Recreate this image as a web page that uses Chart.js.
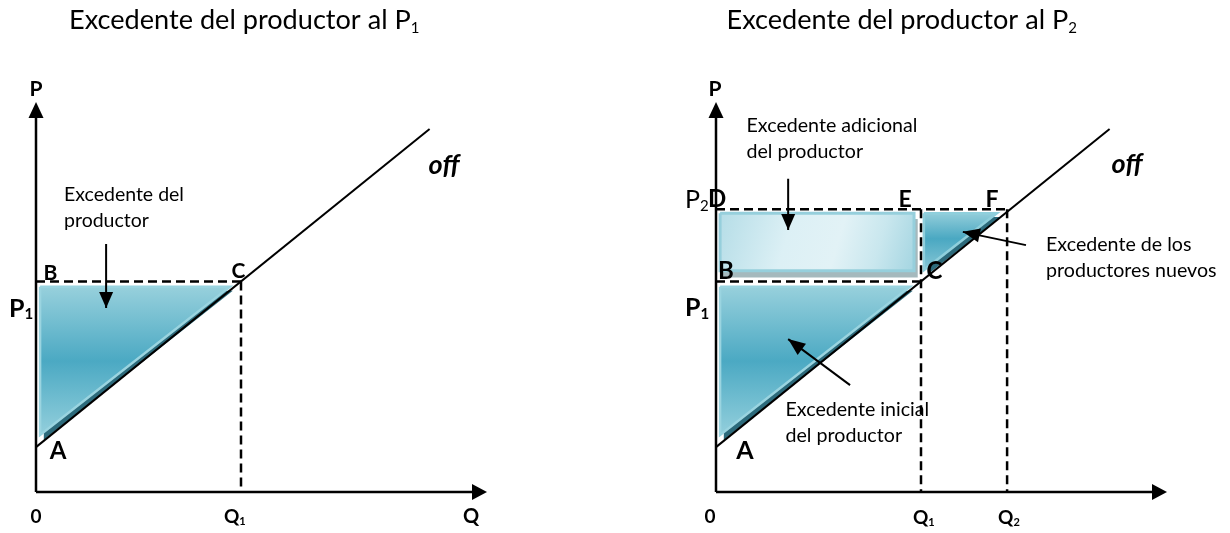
<!DOCTYPE html>
<html><head><meta charset="utf-8">
<script src="https://cdn.jsdelivr.net/npm/chart.js@4.4.1/dist/chart.umd.min.js"></script>
<style>
html,body{margin:0;padding:0;background:#fff;width:1230px;height:533px;overflow:hidden}
canvas{position:absolute;top:0}
#c1{left:0}
#c2{left:680px}
</style></head><body>
<canvas id="c1" width="615" height="533"></canvas>
<canvas id="c2" width="550" height="533"></canvas>
<script>
// ---------- data (Q, P units) ----------
const titleText = 'Excedente del productor al P';
const titleSubs = ['1', '2'];
const supplyQ = [0, 9.6];
const supplyP = [1.15, 9.31];
const Q1 = 5, Q2 = 7.1;
const P1 = 5.4, P2 = 7.25, PA = 1.15;
const axisMaxQ = 11, axisMaxP = 10;
// left panel: producer surplus triangle
const surplusQ = [0.1, 4.73, 0.1, 0.1];
const surplusP = [5.26, 5.26, 1.46, 5.26];
const surplusShadowQ = [0.19, 4.8, 0.19, 0.19];
const surplusShadowP = [5.16, 5.16, 1.34, 5.16];
// right panel: additional surplus rectangle
const extraQ = [0.1, 4.83, 4.83, 0.1, 0.1];
const extraP = [7.15, 7.15, 5.67, 5.67, 7.15];
const extraShadowQ = [0.15, 4.92, 4.92, 0.15, 0.15];
const extraShadowP = [7.0, 7.0, 5.5, 5.5, 7.0];
// right panel: new producers triangle
const newQ = [5.07, 6.85, 5.07, 5.07];
const newP = [7.15, 7.15, 5.69, 7.15];
const newShadowQ = [5.16, 6.95, 5.16, 5.16];
const newShadowP = [7.05, 7.05, 5.58, 7.05];
// arrows [tail, tip]
const leftArrowQ = [1.71, 1.71], leftArrowP = [6.36, 4.72];
const extraArrowQ = [1.76, 1.76], extraArrowP = [8.03, 6.72];
const initArrowQ = [3.27, 1.76], initArrowP = [2.74, 3.92];
const newArrowQ = [7.56, 6.02], newArrowP = [6.33, 6.67];

const FONT = 'Lato, "Open Sans", sans-serif';

function pts(qs, ps) { return qs.map((q, i) => ({x: q, y: ps[i]})); }
function ds(qs, ps, o) {
  return Object.assign({data: pts(qs, ps), showLine: true, pointRadius: 0, pointHoverRadius: 0,
    borderColor: '#000', borderWidth: 2, fill: false, clip: false, tension: 0}, o || {});
}
function vGrad(ps, stops, fallback) {
  return (c) => {
    const ch = c.chart;
    if (!ch.chartArea || !ch.scales.y) return fallback;
    const y = ch.scales.y;
    const g = ch.ctx.createLinearGradient(0, y.getPixelForValue(Math.max(...ps)), 0, y.getPixelForValue(Math.min(...ps)));
    stops.forEach(s => g.addColorStop(s[0], s[1]));
    return g;
  };
}
function dGrad(qs, ps, stops, fallback) {
  return (c) => {
    const ch = c.chart;
    if (!ch.chartArea || !ch.scales.y) return fallback;
    const x = ch.scales.x, y = ch.scales.y;
    const g = ch.ctx.createLinearGradient(x.getPixelForValue(Math.min(...qs)), y.getPixelForValue(Math.max(...ps)),
      x.getPixelForValue(Math.max(...qs)), y.getPixelForValue(Math.min(...ps)));
    stops.forEach(s => g.addColorStop(s[0], s[1]));
    return g;
  };
}
const triStops = [[0, '#97d0dc'], [0.5, '#4ba9c3'], [1, '#93cfdc']];
const newStops = [[0, '#92cdda'], [0.45, '#4aa8c2'], [1, '#86c6d5']];
const rectStops = [[0, '#b5dde7'], [0.35, '#dcf0f5'], [0.6, '#e2f2f6'], [0.8, '#c9e7ee'], [1, '#a4d5e1']];

const dashed = {borderDash: [9, 5], borderWidth: 2.5};

function head(ctx, x1, y1, x2, y2, len, w) {
  const a = Math.atan2(y2 - y1, x2 - x1);
  const bx = x2 - len * Math.cos(a), by = y2 - len * Math.sin(a);
  const px = -Math.sin(a) * w / 2, py = Math.cos(a) * w / 2;
  ctx.beginPath();
  ctx.moveTo(x2, y2); ctx.lineTo(bx + px, by + py); ctx.lineTo(bx - px, by - py); ctx.closePath();
  ctx.fillStyle = '#000'; ctx.fill();
}
function txt(ctx, s, x, y, font, align) {
  ctx.font = font; ctx.textAlign = align || 'left'; ctx.textBaseline = 'alphabetic';
  ctx.fillStyle = '#000'; ctx.fillText(s, x, y);
}
function sub(ctx, s, t, x, y, font, subFont, dy) {
  txt(ctx, s, x, y, font);
  ctx.font = font;
  const w = ctx.measureText(s).width;
  txt(ctx, t, x + w, y + dy, subFont);
}
function fitSize(ctx, s, w, weight) {
  ctx.font = (weight || '') + ' 100px ' + FONT;
  return 100 * w / ctx.measureText(s).width;
}

function makeChart(id, width, datasets, deco) {
  return new Chart(document.getElementById(id), {
    type: 'scatter',
    data: {datasets},
    options: {
      responsive: false, animation: false, devicePixelRatio: 1,
      layout: {padding: {left: 36, right: width - 36 - 451, top: 102, bottom: 41}},
      scales: {
        x: {type: 'linear', min: 0, max: axisMaxQ, display: false},
        y: {type: 'linear', min: 0, max: axisMaxP, display: false}
      },
      plugins: {legend: {display: false}, tooltip: {enabled: false}, title: {display: false}},
      events: []
    },
    plugins: [{id: 'deco', afterDatasetsDraw(chart) {
      const ctx = chart.ctx;
      const X = v => chart.scales.x.getPixelForValue(v);
      const Y = v => chart.scales.y.getPixelForValue(v);
      ctx.save();
      head(ctx, X(0), Y(0), X(axisMaxQ), Y(0), 15, 16);
      head(ctx, X(0), Y(0), X(0), Y(axisMaxP), 16, 15);
      deco(chart, ctx, X, Y);
      ctx.restore();
    }}]
  });
}

function commonLines() {
  return [
    ds(supplyQ, supplyP, {borderWidth: 2}),
    ds([0, axisMaxQ - 0.3], [0, 0], {borderWidth: 2.5}),
    ds([0, 0], [0, axisMaxP - 0.3], {borderWidth: 2.5})
  ];
}
const B = 'bold ';

// ---------- left panel ----------
makeChart('c1', 615, [
  ds(leftArrowQ, leftArrowP, {borderWidth: 2}),
  ...commonLines(),
  ds([0, Q1], [P1, P1], dashed),
  ds([Q1, Q1], [P1, 0], dashed),
  ds(surplusQ, surplusP, {fill: 'shape', borderColor: '#9ad4e0', borderWidth: 2.5,
    backgroundColor: vGrad(surplusP, triStops, '#4ba9c3')}),
  ds(surplusShadowQ, surplusShadowP, {fill: 'shape', borderWidth: 0, borderColor: 'rgba(0,0,0,0)', backgroundColor: '#2c6a7b'})
], (chart, ctx, X, Y) => {
  head(ctx, X(leftArrowQ[0]), Y(leftArrowP[0]), X(leftArrowQ[1]), Y(leftArrowP[1]), 16, 14);
  const ts = fitSize(ctx, titleText, 342, '');
  sub(ctx, titleText, titleSubs[0], 69, 29, ts + 'px ' + FONT, '15px ' + FONT, 4);
  const ns = fitSize(ctx, 'Excedente del', 120, '');
  txt(ctx, 'Excedente del', X(0) + 28, 201, ns + 'px ' + FONT);
  txt(ctx, 'productor', X(0) + 28, 227, ns + 'px ' + FONT);
  txt(ctx, 'P', X(0), Y(axisMaxP) - 6, B + '21px ' + FONT, 'center');
  txt(ctx, 'B', X(0) + 14.5, Y(P1) - 1, B + '21px ' + FONT, 'center');
  txt(ctx, 'C', X(Q1) - 2.5, Y(P1) - 3, B + '21px ' + FONT, 'center');
  sub(ctx, 'P', '1', X(0) - 27, Y(P1) + 36, B + '25px ' + FONT, B + '15px ' + FONT, 2);
  txt(ctx, 'A', X(0) + 22, Y(PA) + 12, B + '24px ' + FONT, 'center');
  txt(ctx, '0', X(0), Y(0) + 31, B + '19px ' + FONT, 'center');
  sub(ctx, 'Q', '1', X(Q1) - 17, Y(0) + 31, B + '19px ' + FONT, B + '11px ' + FONT, 2);
  txt(ctx, 'Q', X(axisMaxQ) - 16, Y(0) + 31, B + '20px ' + FONT, 'center');
  txt(ctx, 'off', X(supplyQ[1]) - 1, Y(supplyP[1]) + 45, 'bold italic 27px ' + FONT);
});

// ---------- right panel ----------
makeChart('c2', 550, [
  ds(extraArrowQ, extraArrowP, {borderWidth: 2}),
  ds(initArrowQ, initArrowP, {borderWidth: 2}),
  ds(newArrowQ, newArrowP, {borderWidth: 2}),
  ...commonLines(),
  ds([0, Q1], [P1, P1], dashed),
  ds([0, Q2], [P2, P2], dashed),
  ds([Q1, Q1], [P2, 0], dashed),
  ds([Q2, Q2], [P2, 0], dashed),
  ds(surplusQ, surplusP, {fill: 'shape', borderColor: '#9ad4e0', borderWidth: 2.5,
    backgroundColor: vGrad(surplusP, triStops, '#4ba9c3')}),
  ds(surplusShadowQ, surplusShadowP, {fill: 'shape', borderWidth: 0, borderColor: 'rgba(0,0,0,0)', backgroundColor: '#2c6a7b'}),
  ds(newQ, newP, {fill: 'shape', borderColor: '#8fcfdc', borderWidth: 2.5,
    backgroundColor: vGrad(newP, newStops, '#4aa8c2')}),
  ds(newShadowQ, newShadowP, {fill: 'shape', borderWidth: 0, borderColor: 'rgba(0,0,0,0)', backgroundColor: '#2c6a7b'}),
  ds(extraQ, extraP, {fill: 'shape', borderColor: '#96cfdc', borderWidth: 3,
    backgroundColor: dGrad(extraQ, extraP, rectStops, '#d6edf3')}),
  ds(extraShadowQ, extraShadowP, {fill: 'shape', borderWidth: 0, borderColor: 'rgba(0,0,0,0)', backgroundColor: '#a5b9bd'})
], (chart, ctx, X, Y) => {
  head(ctx, X(extraArrowQ[0]), Y(extraArrowP[0]), X(extraArrowQ[1]), Y(extraArrowP[1]), 16, 14);
  head(ctx, X(initArrowQ[0]), Y(initArrowP[0]), X(initArrowQ[1]), Y(initArrowP[1]), 17, 14);
  head(ctx, X(newArrowQ[0]), Y(newArrowP[0]), X(newArrowQ[1]), Y(newArrowP[1]), 17, 14);
  const ts = fitSize(ctx, titleText, 342, '');
  sub(ctx, titleText, titleSubs[1], 46.5, 29, ts + 'px ' + FONT, '15px ' + FONT, 4);
  const ns = fitSize(ctx, 'Excedente adicional', 171, '');
  txt(ctx, 'Excedente adicional', X(0) + 30.5, 132, ns + 'px ' + FONT);
  txt(ctx, 'del productor', X(0) + 30.5, 158, ns + 'px ' + FONT);
  txt(ctx, 'Excedente de los', X(0) + 330, 251, ns + 'px ' + FONT);
  txt(ctx, 'productores nuevos', X(0) + 330, 277, ns + 'px ' + FONT);
  txt(ctx, 'Excedente inicial', X(0) + 69.5, 415.5, ns + 'px ' + FONT);
  txt(ctx, 'del productor', X(0) + 69.5, 442, ns + 'px ' + FONT);
  txt(ctx, 'P', X(0) - 1, Y(axisMaxP) - 6, B + '21px ' + FONT, 'center');
  sub(ctx, 'P', '2', X(0) - 31, Y(P2) - 1, '25px ' + FONT, '15px ' + FONT, 3);
  txt(ctx, 'D', X(0) - 8, Y(P2) - 2, B + '24px ' + FONT);
  txt(ctx, 'E', X(Q1) - 16, Y(P2) - 2, B + '23px ' + FONT, 'center');
  txt(ctx, 'F', X(Q2) - 15, Y(P2) - 2, B + '23px ' + FONT, 'center');
  txt(ctx, 'B', X(0) + 10, Y(P1) - 2, B + '24px ' + FONT, 'center');
  txt(ctx, 'C', X(Q1) + 13.5, Y(P1) - 2, B + '24px ' + FONT, 'center');
  sub(ctx, 'P', '1', X(0) - 31, Y(P1) + 35, B + '25px ' + FONT, B + '15px ' + FONT, 3);
  txt(ctx, 'A', X(0) + 29, Y(PA) + 12, B + '25px ' + FONT, 'center');
  txt(ctx, '0', X(0) - 6, Y(0) + 31, B + '19px ' + FONT, 'center');
  sub(ctx, 'Q', '1', X(Q1) - 8, Y(0) + 32, B + '19px ' + FONT, B + '11px ' + FONT, 2);
  sub(ctx, 'Q', '2', X(Q2) - 9, Y(0) + 32, B + '19px ' + FONT, B + '11px ' + FONT, 2);
  txt(ctx, 'off', X(supplyQ[1]) + 2, Y(supplyP[1]) + 44, 'bold italic 27px ' + FONT);
});
</script>
</body></html>
